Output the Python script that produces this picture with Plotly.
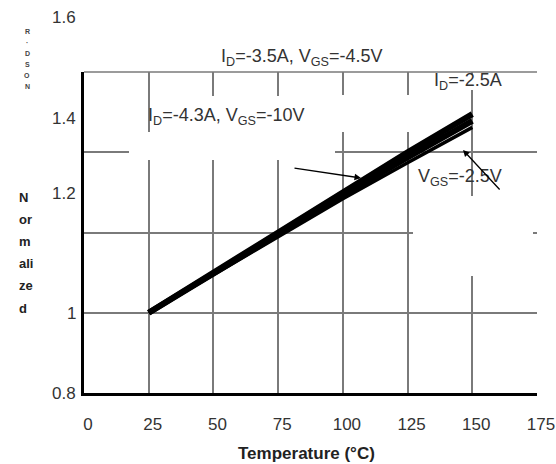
import plotly.graph_objects as go

# ---- data ----
temperature = [25, 50, 75, 100, 125, 150]
rds_id35_vgs45 = [1.0, 1.101, 1.202, 1.303, 1.400, 1.495]
rds_id43_vgs10 = [1.0, 1.098, 1.196, 1.293, 1.387, 1.478]
rds_id25_vgs25 = [1.0, 1.095, 1.190, 1.284, 1.374, 1.462]

x_ticks = [0, 25, 50, 75, 100, 125, 150, 175]
y_tick_text = ["1.6", "1.4", "1.2", "1", "0.8"]
y_title_parts = ["N", "or", "m", "ali", "ze", "d"]
small_marks = ["R", "·", "D", "S", "O", "N"]

W, H = 556, 464
L, R, T, B = 84, 19, 72, 71
X0, X1 = 0, 175
Y0, Y1 = 0.8, 1.6
PW, PH = W - L - R, H - T - B


def px2x(px):
    return X0 + (px - L) / PW * (X1 - X0)


def px2y(py):
    return Y0 + (T + PH - py) / PH * (Y1 - Y0)


def py2paper(py):
    return (T + PH - py) / PH


def px2paper(px):
    return (px - L) / PW


FONT = "Liberation Sans, Arial, sans-serif"

fig = go.Figure()
series = [
    ("I<sub>D</sub>=-3.5A, V<sub>GS</sub>=-4.5V", rds_id35_vgs45, 6),
    ("I<sub>D</sub>=-4.3A, V<sub>GS</sub>=-10V", rds_id43_vgs10, 6),
    ("I<sub>D</sub>=-2.5A, V<sub>GS</sub>=-2.5V", rds_id25_vgs25, 3.5),
]
for name, vals, w in series:
    fig.add_trace(go.Scatter(x=temperature, y=vals, mode="lines", name=name,
                             line=dict(color="black", width=w),
                             showlegend=False, hoverinfo="skip"))

# white patches where the gridlines are broken in the reference
gaps = [
    (160, 335, 96, 160),
    (129, 160, 132, 160),
    (336, 420, 95, 132),
    (413, 533, 196, 276),
    (425, 510, 75, 90),
]
for (xa, xb, ya, yb) in gaps:
    fig.add_shape(type="rect", xref="x", yref="y",
                  x0=px2x(xa), x1=px2x(xb), y0=px2y(yb), y1=px2y(ya),
                  fillcolor="white", line=dict(width=0), layer="between")

# top frame line (grid at 1.6 is not drawn by the axis at the range edge)
fig.add_shape(type="line", xref="paper", yref="paper", x0=0, x1=1, y0=1, y1=1,
              line=dict(color="#7a7a7a", width=1.5), layer="below")

ann = []
lab_font = dict(family=FONT, size=18, color="#333333")


def label(text, px, py):
    return dict(x=px2paper(px), y=py2paper(py), xref="paper", yref="paper",
                xanchor="center", yanchor="middle", showarrow=False,
                text=text, font=lab_font)


ann.append(label("I<sub>D</sub>=-3.5A, V<sub>GS</sub>=-4.5V", 301, 57))
ann.append(label("I<sub>D</sub>=-4.3A, V<sub>GS</sub>=-10V", 226, 116))
ann.append(label("I<sub>D</sub>=-2.5A", 468, 81))
ann.append(label("V<sub>GS</sub>=-2.5V", 460, 177))
# arrows
ann.append(dict(x=px2x(361), y=px2y(178), ax=px2x(293), ay=px2y(168),
                xref="x", yref="y", axref="x", ayref="y", text="",
                showarrow=True, arrowhead=2, arrowsize=1, arrowwidth=1.3,
                arrowcolor="black"))
ann.append(dict(x=px2x(463), y=px2y(150), ax=px2x(501), ay=px2y(191),
                xref="x", yref="y", axref="x", ayref="y", text="",
                showarrow=True, arrowhead=2, arrowsize=1, arrowwidth=1.3,
                arrowcolor="black"))
# y tick labels (placed as in the reference)
ytick_py = [17, 118, 193, 313, 393]
for txt, py in zip(y_tick_text, ytick_py):
    ann.append(dict(x=px2paper(78), y=py2paper(py), xref="paper", yref="paper",
                    xanchor="right", yanchor="middle", showarrow=False, text=txt,
                    font=dict(family=FONT, size=17, color="#333333")))
# y title stacked
for i, part in enumerate(y_title_parts):
    ann.append(dict(x=px2paper(17), y=py2paper(197 + 22.2 * i), xref="paper",
                    yref="paper", xanchor="left", yanchor="middle",
                    showarrow=False, text="<b>" + part + "</b>",
                    font=dict(family=FONT, size=13, color="#222222")))
# small marks at top-left
for i, part in enumerate(small_marks):
    ann.append(dict(x=px2paper(27), y=py2paper(31 + 11 * i), xref="paper",
                    yref="paper", xanchor="center", yanchor="middle",
                    showarrow=False, text="<b>" + part + "</b>",
                    font=dict(family=FONT, size=7, color="#444444")))
# x title
ann.append(dict(x=px2paper(306), y=py2paper(454), xref="paper", yref="paper",
                xanchor="center", yanchor="middle", showarrow=False,
                text="<b>Temperature (°C)</b>",
                font=dict(family=FONT, size=17, color="#222222")))

fig.update_layout(
    width=W, height=H,
    margin=dict(l=L, r=R, t=T, b=B, pad=0, autoexpand=False),
    paper_bgcolor="white", plot_bgcolor="white",
    annotations=ann,
    xaxis=dict(range=[X0, X1], tickvals=x_ticks, ticks="", automargin=False,
               showgrid=True, gridcolor="#7a7a7a", gridwidth=1.5,
               showline=True, linecolor="black", linewidth=3,
               zeroline=False, ticklabelstandoff=14, ticklabelshift=4,
               ticklabeloverflow="allow",
               tickfont=dict(family=FONT, size=17, color="#333333")),
    yaxis=dict(range=[Y0, Y1], tickvals=[0.8, 1.0, 1.2, 1.4, 1.6], ticks="",
               showticklabels=False, automargin=False,
               showgrid=True, gridcolor="#7a7a7a", gridwidth=1.5,
               showline=True, linecolor="black", linewidth=3, zeroline=False),
)

fig.write_html("out.html",
               config={"displayModeBar": False},
               post_script="document.body.style.margin='0';"
                           "document.body.style.padding='0';")
